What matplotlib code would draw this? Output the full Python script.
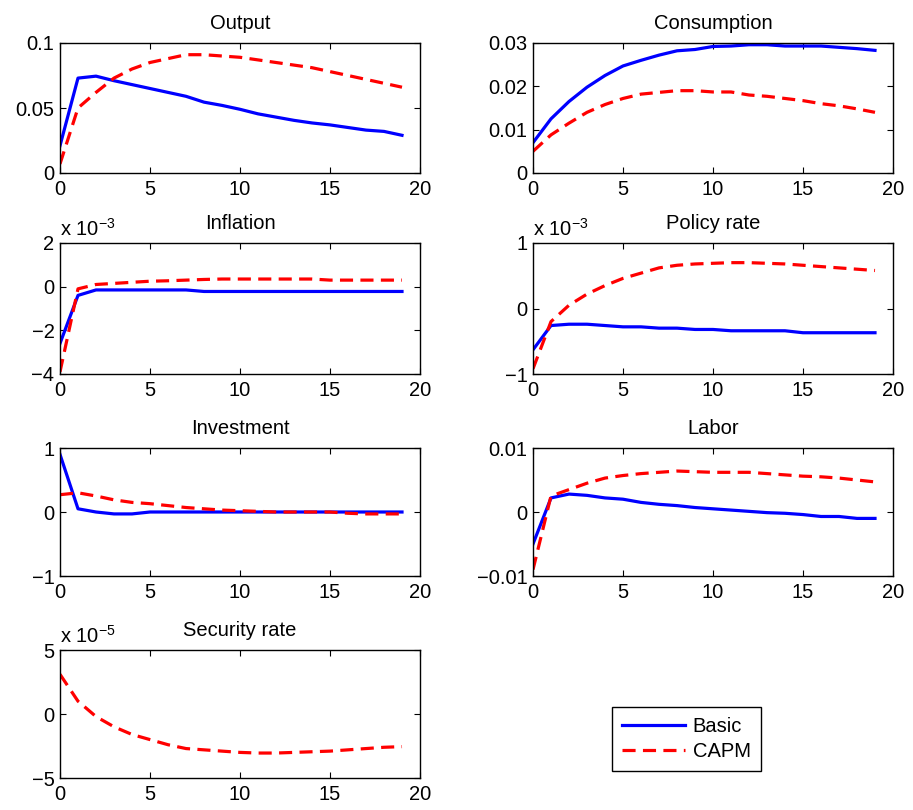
import matplotlib
matplotlib.use("Agg")
import matplotlib.pyplot as plt
import numpy as np

plt.rcParams['font.family'] = ['Liberation Sans', 'DejaVu Sans']
plt.rcParams['font.size'] = 14
plt.rcParams['mathtext.fontset'] = 'custom'
plt.rcParams['mathtext.rm'] = 'Liberation Sans'
plt.rcParams['mathtext.it'] = 'Liberation Sans'

t = list(range(20))

output_basic = [0.021, 0.073, 0.0745, 0.071, 0.068, 0.065, 0.062, 0.059, 0.0545, 0.052,
                0.049, 0.0455, 0.043, 0.0405, 0.0385, 0.037, 0.035, 0.033, 0.032, 0.029]
output_capm = [0.007, 0.050, 0.062, 0.073, 0.080, 0.085, 0.088, 0.091, 0.091, 0.090,
               0.089, 0.087, 0.085, 0.083, 0.081, 0.078, 0.075, 0.072, 0.069, 0.066]

cons_basic = [0.007, 0.0125, 0.0165, 0.0198, 0.0225, 0.0247, 0.026, 0.0272, 0.0282, 0.0285,
              0.0292, 0.0293, 0.0296, 0.0296, 0.0293, 0.0293, 0.0293, 0.029, 0.0287, 0.0283]
cons_capm = [0.005, 0.0088, 0.0115, 0.014, 0.0158, 0.0172, 0.0182, 0.0186, 0.019, 0.019,
             0.0187, 0.0187, 0.018, 0.0177, 0.0172, 0.0167, 0.016, 0.0155, 0.0148, 0.014]

# in units of 1e-3
infl_basic = [-2.6, -0.4, -0.15, -0.15, -0.15, -0.15, -0.15, -0.15, -0.22, -0.22,
              -0.22, -0.22, -0.22, -0.22, -0.22, -0.22, -0.22, -0.22, -0.22, -0.22]
infl_capm = [-3.9, -0.1, 0.1, 0.15, 0.2, 0.25, 0.27, 0.3, 0.33, 0.35,
             0.35, 0.35, 0.35, 0.35, 0.35, 0.3, 0.3, 0.3, 0.3, 0.3]

# in units of 1e-3
policy_basic = [-0.63, -0.26, -0.24, -0.24, -0.26, -0.28, -0.28, -0.30, -0.30, -0.32,
                -0.32, -0.34, -0.34, -0.34, -0.34, -0.37, -0.37, -0.37, -0.37, -0.37]
policy_capm = [-0.92, -0.2, 0.05, 0.22, 0.35, 0.46, 0.54, 0.62, 0.66, 0.68,
               0.69, 0.70, 0.70, 0.69, 0.68, 0.66, 0.64, 0.62, 0.60, 0.58]

inv_basic = [0.9, 0.05, 0.0, -0.03, -0.03, 0.0, 0.0, 0.0, 0.0, 0.0,
             0.0, 0.0, 0.0, 0.0, 0.0, 0.0, 0.0, 0.0, 0.0, 0.0]
inv_capm = [0.27, 0.30, 0.25, 0.19, 0.15, 0.13, 0.10, 0.07, 0.05, 0.03,
            0.02, 0.01, 0.0, 0.0, 0.0, 0.0, -0.02, -0.03, -0.03, -0.03]

labor_basic = [-0.005, 0.0022, 0.0028, 0.0026, 0.0022, 0.002, 0.0015, 0.0012, 0.001, 0.0007,
               0.0005, 0.0003, 0.0001, -0.0001, -0.0002, -0.0004, -0.0007, -0.0007, -0.001, -0.001]
labor_capm = [-0.009, 0.0025, 0.0035, 0.0045, 0.0053, 0.0057, 0.006, 0.0062, 0.0064, 0.0063,
              0.0062, 0.0062, 0.0062, 0.006, 0.0058, 0.0056, 0.0055, 0.0053, 0.005, 0.0047]

# in units of 1e-5
sec_capm = [3.1, 1.0, -0.2, -1.0, -1.6, -2.0, -2.4, -2.7, -2.8, -2.9,
            -3.0, -3.05, -3.05, -3.0, -2.95, -2.9, -2.8, -2.7, -2.6, -2.55]

xticks = [0, 5, 10, 15, 20]

panels = [
    ("Output", output_basic, output_capm, [0, 0.05, 0.1], ["0", "0.05", "0.1"], None),
    ("Consumption", cons_basic, cons_capm, [0, 0.01, 0.02, 0.03], ["0", "0.01", "0.02", "0.03"], None),
    ("Inflation", infl_basic, infl_capm, [-4, -2, 0, 2], ["\u22124", "\u22122", "0", "2"], "-3"),
    ("Policy rate", policy_basic, policy_capm, [-1, 0, 1], ["\u22121", "0", "1"], "-3"),
    ("Investment", inv_basic, inv_capm, [-1, 0, 1], ["\u22121", "0", "1"], None),
    ("Labor", labor_basic, labor_capm, [-0.01, 0, 0.01], ["\u22120.01", "0", "0.01"], None),
    ("Security rate", None, sec_capm, [-5, 0, 5], ["\u22125", "0", "5"], "-5"),
]

W, H = 913, 810
fig = plt.figure(figsize=(W / 100, H / 100), dpi=100)

col_x = [60, 533]
col_w = 360
rows = [(43, 173), (243, 374), (448, 576), (650, 778)]

blue = "#0000ff"
red = "#ff0000"
lw = 2.3
FS = 14.5
handles = []
for i, (title, b, c, yt, ytl, expo) in enumerate(panels):
    r, cidx = divmod(i, 2)
    top, bot = rows[r]
    ax = fig.add_axes([col_x[cidx] / W, 1 - bot / H, col_w / W, (bot - top) / H])
    hb = None
    if b is not None:
        hb, = ax.plot(t, b, color=blue, lw=lw, label="Basic")
    hc, = ax.plot(t, c, color=red, lw=lw, dashes=(4.1, 2.3), label="CAPM")
    if i == 0:
        handles = [hb, hc]
    ax.set_xlim(0, 20)
    ax.set_ylim(yt[0], yt[-1])
    ax.set_xticks(xticks)
    ax.set_xticklabels([str(x) for x in xticks])
    ax.set_yticks(yt)
    ax.set_yticklabels(ytl)
    ax.tick_params(direction="in", top=True, right=True, length=4, width=0.8,
                   labelsize=FS)
    ax.tick_params(axis="x", pad=5)
    ax.tick_params(axis="y", pad=4)
    for s in ax.spines.values():
        s.set_linewidth(1.0)
    ax.set_title(title, fontsize=FS, pad=10)
    if expo is not None:
        ax.annotate("x 10$^{%s}$" % expo.replace("-", "\u2212"), xy=(0, 1),
                    xycoords="axes fraction", xytext=(0, 5), textcoords="offset points",
                    ha="left", va="baseline", fontsize=FS)

leg = fig.legend(handles, ["Basic", "CAPM"], loc="upper left",
                 bbox_to_anchor=(612 / W, 1 - 707 / H), fontsize=FS,
                 handlelength=3.1, handletextpad=0.4, fancybox=False, edgecolor="black",
                 framealpha=1, borderpad=0.5, labelspacing=0.3, borderaxespad=0)
leg.get_frame().set_linewidth(1.0)

fig.savefig("out.png", dpi=100)
